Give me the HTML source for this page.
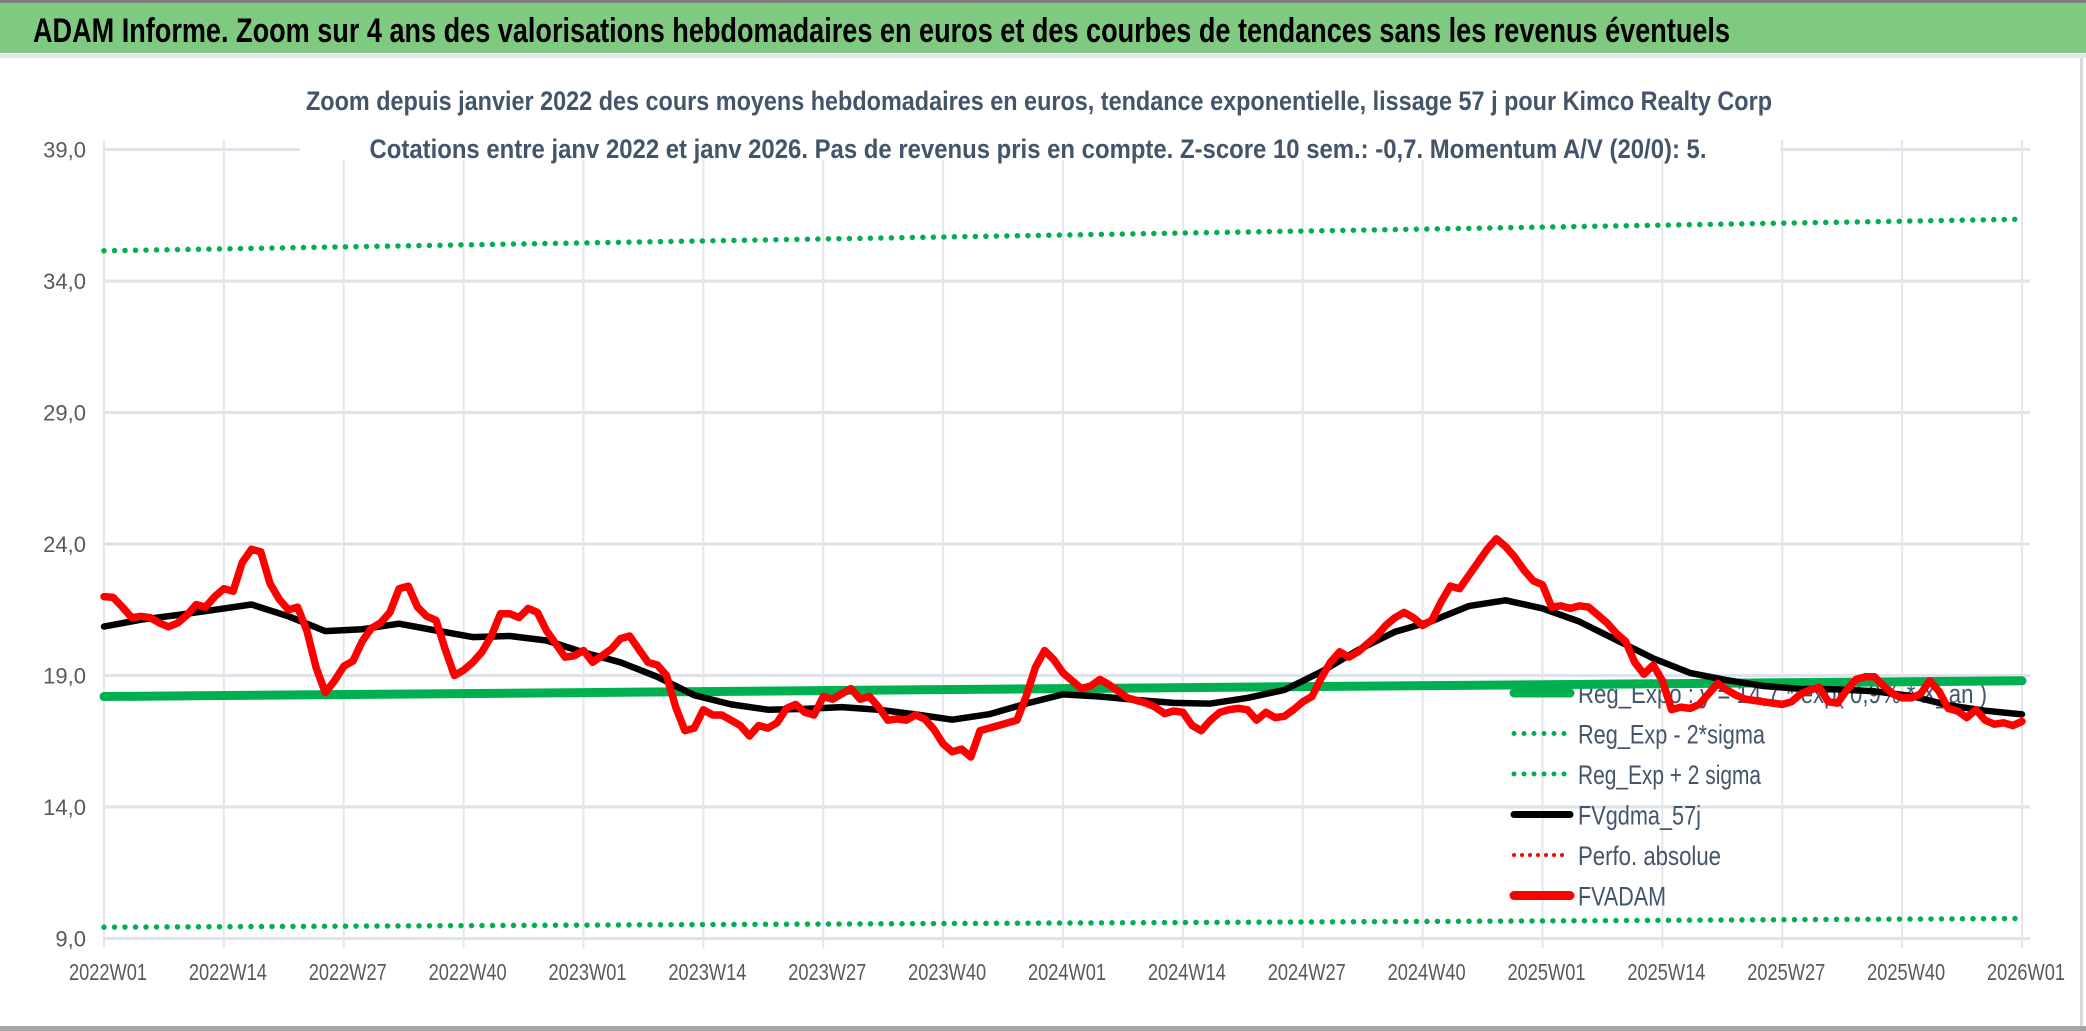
<!DOCTYPE html>
<html><head><meta charset="utf-8"><style>
html,body{margin:0;padding:0;background:#fff;}
svg{display:block;}
text{font-family:"Liberation Sans Narrow","Liberation Sans",sans-serif;}
</style></head><body>
<svg id="chart" width="2086" height="1031" viewBox="0 0 2086 1031" xmlns="http://www.w3.org/2000/svg">
  <rect x="0" y="0" width="2086" height="1031" fill="#ffffff"/>
  <rect x="0" y="0" width="2086" height="3" fill="#7f7f7f"/>
  <rect x="0" y="3" width="2086" height="50" fill="#80c980"/>
  <rect x="0" y="54" width="2086" height="4" fill="#e3e5ea"/>
  <text x="33" y="42" font-size="34" font-weight="bold" fill="#000" textLength="1697" lengthAdjust="spacingAndGlyphs">ADAM Informe. Zoom sur 4 ans des valorisations hebdomadaires en euros et des courbes de tendances sans les revenus éventuels</text>
  <rect x="2080" y="58" width="3" height="970" fill="#d9d9d9"/>
  <rect x="0" y="1026" width="2086" height="5" fill="#a6a6a6"/>
  <g id="grid"></g>
  <rect x="300" y="140" width="1480" height="20" fill="#ffffff"/>
  <text x="1039" y="110" font-size="27" font-weight="bold" fill="#44546a" text-anchor="middle" textLength="1466" lengthAdjust="spacingAndGlyphs">Zoom depuis janvier 2022 des cours moyens hebdomadaires en euros, tendance exponentielle, lissage 57 j pour Kimco Realty Corp</text>
  <text x="1038" y="158" font-size="27" font-weight="bold" fill="#44546a" text-anchor="middle" textLength="1337" lengthAdjust="spacingAndGlyphs">Cotations entre janv 2022 et janv 2026. Pas de revenus pris en compte. Z-score 10 sem.: -0,7. Momentum A/V (20/0): 5.</text>
  <g id="yaxis"></g>
  <g id="xaxis"></g>
  <g id="legend"></g>
  <g id="series"></g>
</svg>
<script>
// ---- data ----
const xTickLabels = ["2022W01","2022W14","2022W27","2022W40","2023W01","2023W14","2023W27","2023W40","2024W01","2024W14","2024W27","2024W40","2025W01","2025W14","2025W27","2025W40","2026W01"];
const yTickValues = [9,14,19,24,29,34,39];
const yTickLabels = ["9,0","14,0","19,0","24,0","29,0","34,0","39,0"];
const fvadam = [22.0,21.97,21.6,21.2,21.25,21.2,21.0,20.85,21.0,21.3,21.7,21.6,22.0,22.3,22.2,23.3,23.8,23.7,22.5,21.9,21.5,21.6,20.7,19.3,18.35,18.8,19.35,19.55,20.3,20.8,21.0,21.4,22.3,22.4,21.6,21.25,21.1,20.0,19.0,19.2,19.5,19.9,20.5,21.35,21.35,21.2,21.55,21.4,20.7,20.2,19.7,19.75,19.95,
19.5,19.75,20.0,20.4,20.5,20.0,19.5,19.4,19.0,17.8,16.9,17.0,17.7,17.5,17.5,17.3,17.1,16.7,17.1,17.0,17.2,17.75,17.9,17.6,17.5,18.2,18.1,18.3,18.5,18.1,18.2,17.8,17.3,17.35,17.3,17.5,17.35,16.95,16.4,16.1,16.2,15.9,16.9,17.0,17.1,17.2,17.3,18.2,19.3,19.95,19.6,19.1,18.8,18.5,
18.6,18.85,18.65,18.4,18.15,18.05,17.95,17.8,17.55,17.65,17.6,17.1,16.9,17.3,17.6,17.7,17.75,17.7,17.3,17.6,17.4,17.45,17.7,18.0,18.2,18.9,19.5,19.9,19.7,19.9,20.2,20.5,20.9,21.2,21.4,21.2,20.9,21.1,21.8,22.4,22.3,22.8,23.3,23.8,24.2,23.9,23.5,23.0,22.6,22.45,21.6,21.65,
21.55,21.65,21.6,21.3,21.0,20.6,20.3,19.5,19.05,19.4,18.8,17.7,17.8,17.75,17.9,18.3,18.7,18.45,18.25,18.1,18.05,18.0,17.95,17.9,18.0,18.3,18.45,18.55,18.0,17.95,18.45,18.85,18.95,18.95,18.6,18.3,18.15,18.15,18.3,18.8,18.4,17.75,17.65,17.4,17.7,17.3,17.15,17.2,17.1,17.25];
const maWeeks = [0,4,8,12,16,20,24,28,32,36,40,44,48,52,56,60,64,68,72,76,80,84,88,92,96,100,104,108,112,116,120,124,128,132,136,140,144,148,152,156,160,164,168,172,176,180,184,188,192,196,200,204,208];
const maValues = [20.86,21.12,21.3,21.5,21.7,21.25,20.69,20.76,20.97,20.71,20.46,20.5,20.33,19.88,19.5,18.95,18.25,17.9,17.7,17.73,17.8,17.7,17.52,17.32,17.53,17.93,18.28,18.2,18.07,17.96,17.93,18.15,18.45,19.14,19.97,20.66,21.07,21.64,21.86,21.55,21.05,20.35,19.65,19.1,18.82,18.6,18.49,18.47,18.4,18.22,17.87,17.66,17.52];
const regWeeks = [0,52,104,156,208];
const regValues = [18.2,18.35,18.5,18.65,18.8];
const regUpper = [35.15,35.45,35.75,36.05,36.35];
const regLower = [9.43,9.51,9.59,9.67,9.76];
const legendLabels = ["Reg_Expo : y = 14,7 * exp( 0,9% * X_an )","Reg_Exp - 2*sigma","Reg_Exp + 2 sigma","FVgdma_57j","Perfo. absolue","FVADAM"];

// ---- scales ----
const NS="http://www.w3.org/2000/svg";
const X0=104, X1=2022, WMAX=208;
const Y0=938.5, YPER=26.3;
const xs = w => X0 + (X1-X0)*w/WMAX;
const ys = v => Y0 - (v-9)*YPER;
function mk(tag, attrs, parent){const e=document.createElementNS(NS,tag);for(const k in attrs)e.setAttribute(k,attrs[k]);parent.appendChild(e);return e;}

const grid=document.getElementById('grid');
yTickValues.forEach((v,i)=>{
  const l=mk('line',{x1:X0,x2:2030,y1:ys(v),y2:ys(v),stroke:'#dfe2e8','stroke-width':3},grid);
  
  
});
xTickLabels.forEach((t,i)=>{
  const x=xs(i*13);
  const l=mk('line',{x1:x,x2:x,y1:140,y2:948,stroke:'#e3e6eb','stroke-width':2},grid);
  
  
});
const yax=document.getElementById('yaxis');
yTickValues.forEach((v,i)=>{
  const t=mk('text',{x:86,y:ys(v)+8,'font-size':22,fill:'#595959','text-anchor':'end'},yax);
  t.textContent=yTickLabels[i];
  
  
});
const xax=document.getElementById('xaxis');
xTickLabels.forEach((lab,i)=>{
  const t=mk('text',{x:xs(i*13)+4,y:980,'font-size':23,fill:'#595959','text-anchor':'middle',textLength:78,lengthAdjust:'spacingAndGlyphs'},xax);
  t.textContent=lab;
  
  
});

const leg=document.getElementById('legend');
const legStyles=[
  {stroke:'#00b050',w:9,dash:null},
  {stroke:'#00b050',w:5,dash:'0 10'},
  {stroke:'#00b050',w:5,dash:'0 10'},
  {stroke:'#000000',w:7,dash:null},
  {stroke:'#ff0000',w:4,dash:'0 8'},
  {stroke:'#ff0000',w:9,dash:null}];
const legWidths=[409,187,183,123,143,88];
legendLabels.forEach((lab,i)=>{
  const cy=693+i*40.5;
  const g=mk('g',{},leg);
  
  
  const s=legStyles[i];
  const a={x1:1514,x2:1570,y1:cy,y2:cy,stroke:s.stroke,'stroke-width':s.w,'stroke-linecap':'round'};
  if(s.dash)a['stroke-dasharray']=s.dash;
  const ln=mk('line',a,g);
  
  
  const t=mk('text',{x:1578,y:cy+10,'font-size':27,fill:'#44546a',textLength:legWidths[i],lengthAdjust:'spacingAndGlyphs'},g);
  t.textContent=lab;
  
  
});

const ser=document.getElementById('series');
function pts(ws,vs){return ws.map((w,i)=>xs(w).toFixed(1)+','+ys(vs[i]).toFixed(1)).join(' ');}
const lo=mk('polyline',{points:pts(regWeeks,regLower),fill:'none',stroke:'#00b050','stroke-width':5.5,'stroke-linecap':'round','stroke-dasharray':'0 10.5'},ser);


const up=mk('polyline',{points:pts(regWeeks,regUpper),fill:'none',stroke:'#00b050','stroke-width':5.5,'stroke-linecap':'round','stroke-dasharray':'0 10.5'},ser);


const rg=mk('polyline',{points:pts(regWeeks,regValues),fill:'none',stroke:'#00b050','stroke-width':9,'stroke-linecap':'round'},ser);


const ma=mk('polyline',{points:pts(maWeeks,maValues),fill:'none',stroke:'#000000','stroke-width':6.5,'stroke-linejoin':'round','stroke-linecap':'round'},ser);


const fvWeeks=fvadam.map((v,i)=>i);
const fv=mk('polyline',{points:pts(fvWeeks,fvadam),fill:'none',stroke:'#ff0000','stroke-width':7.5,'stroke-linejoin':'round','stroke-linecap':'round'},ser);


</script>
</body></html>
